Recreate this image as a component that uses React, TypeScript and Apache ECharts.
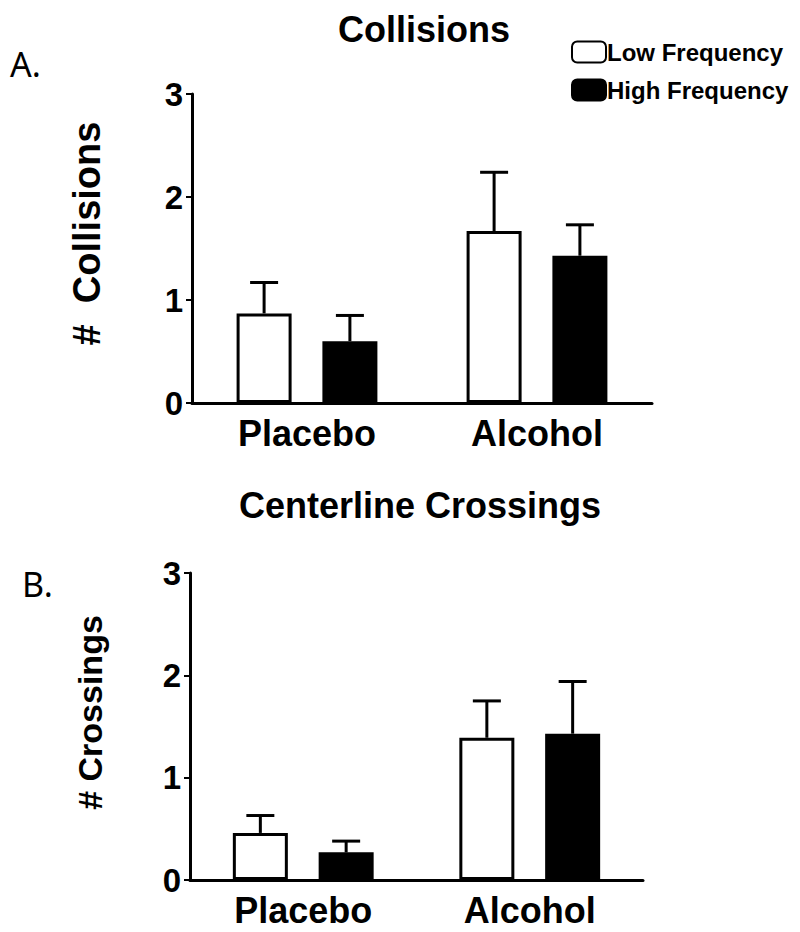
import React, { useEffect, useRef } from "react";
import * as echarts from "echarts";

const categories = ["Placebo", "Alcohol"];
const collisionsLow = [0.87, 1.67];
const collisionsLowErr = [0.3, 0.57];
const collisionsHigh = [0.6, 1.43];
const collisionsHighErr = [0.25, 0.3];
const crossingsLow = [0.46, 1.39];
const crossingsLowErr = [0.17, 0.36];
const crossingsHigh = [0.27, 1.43];
const crossingsHighErr = [0.11, 0.51];
const yTicks = [0, 1, 2, 3];

const FONT = "Liberation Sans";
const BAR_W = 55;
const BAR_GAP = 0.56;

function errorSeries(xi: number, means: number[], errs: number[], side: number) {
  return {
    type: "custom",
    xAxisIndex: xi,
    yAxisIndex: xi,
    z: 5,
    silent: true,
    encode: { x: 0, y: 1 },
    data: means.map((m, i) => [i, m, errs[i]]),
    renderItem: (params: any, api: any) => {
      const x = api.value(0);
      const m = api.value(1);
      const e = api.value(2);
      const base = api.coord([x, m]);
      const top = api.coord([x, m + e]);
      const off = (side * (BAR_W * (1 + BAR_GAP))) / 2;
      const cx = base[0] + off;
      return {
        type: "group",
        children: [
          { type: "line", shape: { x1: cx, y1: base[1], x2: cx, y2: top[1] }, style: { stroke: "#000", lineWidth: 3 } },
          { type: "line", shape: { x1: cx - 14, y1: top[1], x2: cx + 14, y2: top[1] }, style: { stroke: "#000", lineWidth: 3 } },
        ],
      };
    },
  };
}

function barSeries(name: string, xi: number, data: number[], color: string) {
  return {
    name,
    type: "bar",
    xAxisIndex: xi,
    yAxisIndex: xi,
    barWidth: BAR_W,
    barGap: BAR_GAP * 100 + "%",
    data,
    itemStyle: { color, borderColor: "#000", borderWidth: 3 },
  };
}

function xAxis(gi: number) {
  return {
    type: "category",
    gridIndex: gi,
    data: categories,
    axisLine: { lineStyle: { color: "#000", width: 3 } },
    axisTick: { alignWithLabel: true, length: 7, lineStyle: { color: "#000", width: 2 } },
    axisLabel: { color: "#000", fontSize: 36, fontWeight: "bold", fontFamily: FONT, margin: 12 },
  };
}

function yAxis(gi: number, name: string, gap: number, size: number, shift: number) {
  return {
    type: "value",
    gridIndex: gi,
    min: yTicks[0],
    max: yTicks[yTicks.length - 1],
    interval: 1,
    splitLine: { show: false },
    name,
    nameLocation: "middle",
    nameRotate: 90,
    nameGap: gap,
    nameTextStyle: { color: "#000", fontSize: size, fontWeight: "bold", fontFamily: FONT, padding: [0, 0, 0, shift] },
    axisLine: { show: true, lineStyle: { color: "#000", width: 3 } },
    axisTick: { show: true, length: 6, lineStyle: { color: "#000", width: 2 } },
    axisLabel: { color: "#000", fontSize: 33, fontWeight: "bold", fontFamily: FONT, margin: 9 },
  };
}

export default function App() {
  const ref = useRef<HTMLDivElement>(null);
  useEffect(() => {
    const chart = echarts.init(ref.current!, null, { renderer: "svg" });
    chart.setOption({
      animation: false,
      backgroundColor: "#fff",
      title: [
        { text: "Collisions", left: 333, top: 6, textStyle: { color: "#000", fontSize: 36, fontWeight: "bold", fontFamily: FONT } },
        { text: "Centerline Crossings", left: 234, top: 482, textStyle: { color: "#000", fontSize: 36, fontWeight: "bold", fontFamily: FONT } },
        { text: "A.", left: 5, top: 42, textStyle: { color: "#000", fontSize: 34, fontWeight: "normal", fontFamily: "Noto Sans" } },
        { text: "B.", left: 17, top: 562, textStyle: { color: "#000", fontSize: 34, fontWeight: "normal", fontFamily: "Noto Sans" } },
      ],
      legend: {
        orient: "vertical",
        left: 571,
        top: 40,
        padding: 0,
        itemWidth: 34,
        itemHeight: 21,
        itemGap: 14,
        icon: "roundRect",
        data: ["Low Frequency", "High Frequency"],
        textStyle: { color: "#000", fontSize: 24, fontWeight: "bold", fontFamily: FONT, padding: [0, 0, 0, -4] },
      },
      grid: [
        { left: 192, right: 148, top: 94, height: 309 },
        { left: 190, right: 157, top: 573, height: 307 },
      ],
      xAxis: [xAxis(0), xAxis(1)],
      yAxis: [yAxis(0, "#  Collisions", 86, 38, 30), yAxis(1, "# Crossings", 83, 34, 28)],
      series: [
        barSeries("Low Frequency", 0, collisionsLow, "#fff"),
        barSeries("High Frequency", 0, collisionsHigh, "#000"),
        errorSeries(0, collisionsLow, collisionsLowErr, -1),
        errorSeries(0, collisionsHigh, collisionsHighErr, 1),
        barSeries("Low Frequency", 1, crossingsLow, "#fff"),
        barSeries("High Frequency", 1, crossingsHigh, "#000"),
        errorSeries(1, crossingsLow, crossingsLowErr, -1),
        errorSeries(1, crossingsHigh, crossingsHighErr, 1),
      ],
    });
    return () => chart.dispose();
  }, []);
  return <div ref={ref} style={{ position: "absolute", left: 0, top: 0, width: 800, height: 932 }} />;
}
